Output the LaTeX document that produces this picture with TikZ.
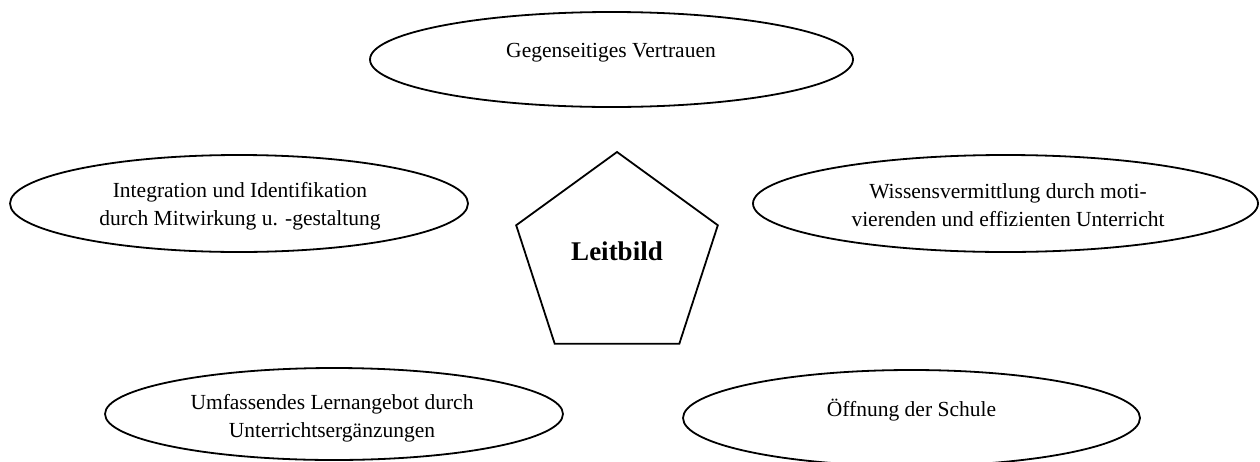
\documentclass[tikz,border=0pt]{standalone}
\usepackage{fontspec}
\setmainfont{Liberation Serif}
\usetikzlibrary{shapes.geometric}
\begin{document}
\begin{tikzpicture}[x=1pt,y=-1pt,
  oval/.style={draw, line width=1.8pt, ellipse, inner sep=0pt},
  lbl/.style={font=\fontsize{21.5}{28}\selectfont, align=center, inner sep=0pt},
  pentbox/.style={draw, line width=1.8pt, regular polygon, regular polygon sides=5, inner sep=0pt, minimum size=212pt},
]
\useasboundingbox (0,0) rectangle (1260,461);
% ellipses
\node[oval, minimum width=483pt, minimum height=95pt] (top) at (611.5,59.5) {};
\node[oval, minimum width=458pt, minimum height=97pt] (left) at (239,203.5) {};
\node[oval, minimum width=505pt, minimum height=97pt] (right) at (1005.5,203.5) {};
\node[oval, minimum width=458pt, minimum height=92pt] (botleft) at (334,414) {};
\node[oval, minimum width=457pt, minimum height=96pt] (botright) at (911.5,418) {};
% pentagon
\node[pentbox] (pent) at (617,258) {};
% texts
\node[lbl, anchor=base] (ttop) at (611,57) {Gegenseitiges Vertrauen};
\node[lbl] (tleft) at (240,206) {Integration und Identifikation\\durch Mitwirkung u. -gestaltung};
\node[lbl] (tright) at (1008,205) {Wissensvermittlung durch moti-\\vierenden und effizienten Unterricht};
\node[lbl] (tbotleft) at (332,418) {Umfassendes Lernangebot durch\\Unterrichtsergänzungen};
\node[lbl, anchor=base] (tbotright) at (911.5,416) {Öffnung der Schule};
\node[inner sep=0pt, anchor=base, font=\fontsize{27}{32}\selectfont\bfseries] (leit) at (617,260) {Leitbild};
\end{tikzpicture}
\end{document}
